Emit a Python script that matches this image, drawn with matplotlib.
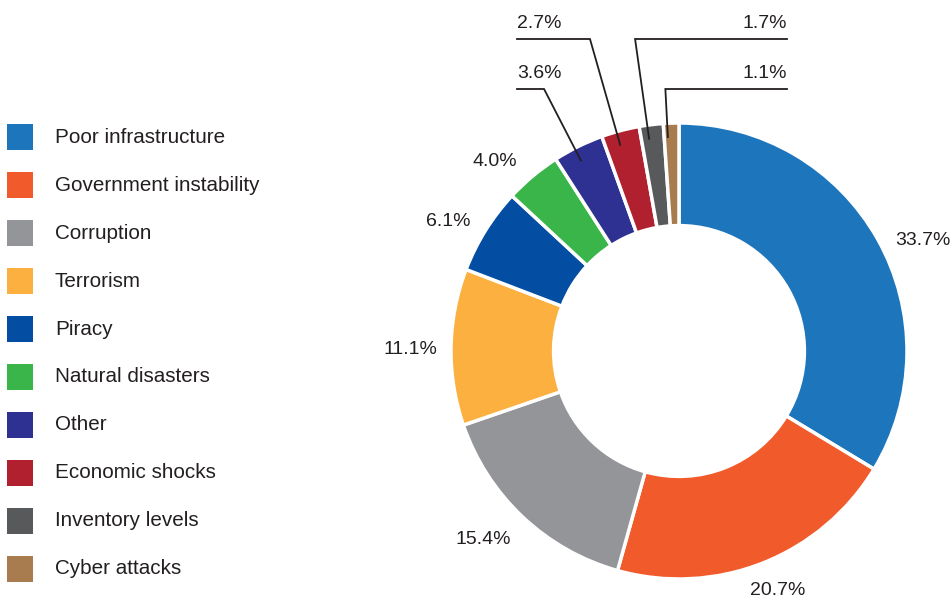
import numpy as np
import matplotlib.pyplot as plt
from matplotlib.patches import Rectangle

plt.rcParams['font.family'] = ['Liberation Sans', 'DejaVu Sans']

labels = ["Poor infrastructure", "Government instability", "Corruption",
          "Terrorism", "Piracy", "Natural disasters", "Other",
          "Economic shocks", "Inventory levels", "Cyber attacks"]
values = [33.7, 20.7, 15.4, 11.1, 6.1, 4.0, 3.6, 2.7, 1.7, 1.1]
colors = ["#1d75bc", "#f15a2b", "#939598", "#fbb040", "#034ea2",
          "#39b54a", "#2e3192", "#b0202f", "#58595b", "#a97c50"]

text_color = "#231f20"

fig = plt.figure(figsize=(9.53, 6.02), dpi=100)
ax = fig.add_axes([0, 0, 1, 1])

# donut, in pixel units (y goes up)
cx, cy, R = 679, 251, 228
wedges, _ = ax.pie(values, colors=colors, startangle=90, counterclock=False,
                   center=(cx, cy), radius=R, frame=True,
                   wedgeprops=dict(width=0.45 * R, edgecolor='white', linewidth=2.5))
ax.set_xlim(0, 953)
ax.set_ylim(0, 602)
ax.set_aspect('equal')
ax.axis('off')

# labels for the big slices, placed around the ring (angle nudge, radius factor)
label_pos = [(-5.1, 1.175), (0.8, 1.136), (-2.7, 1.19),
             (0.7, 1.18), (2.6, 1.16), (4.3, 1.16)]
for w, v, (d, rf) in zip(wedges[:6], values[:6], label_pos):
    mid = np.radians((w.theta1 + w.theta2) / 2 + d)
    ax.text(cx + rf * R * np.cos(mid), cy + rf * R * np.sin(mid), f"{v}%",
            ha='center', va='center', fontsize=14, color=text_color)

# leader lines for the small slices at the top
levels = [513, 563, 563, 513]
ends = [517, 517, 787, 787]
for w, v, ly, ex in zip(wedges[6:], values[6:], levels, ends):
    mid = np.radians((w.theta1 + w.theta2) / 2 + 1)
    px, py = cx + 0.94 * R * np.cos(mid), cy + 0.94 * R * np.sin(mid)
    t = (ly - cy) / np.sin(mid)
    ax.plot([px, cx + t * np.cos(mid), ex], [py, ly, ly], color=text_color,
            lw=1.3, solid_joinstyle='miter')
    ha = 'left' if ex < cx else 'right'
    ax.text(ex, ly + 7, f"{v}%", ha=ha, va='bottom', fontsize=14, color=text_color)

# legend on the left
for i, (lab, c) in enumerate(zip(labels, colors)):
    y = 602 - 137 - 48 * i
    ax.add_patch(Rectangle((7, y - 13), 26, 26, facecolor=c, edgecolor='none'))
    ax.text(55, y, lab, ha='left', va='center', fontsize=14.9, color=text_color)

fig.savefig("out.png", dpi=100)
